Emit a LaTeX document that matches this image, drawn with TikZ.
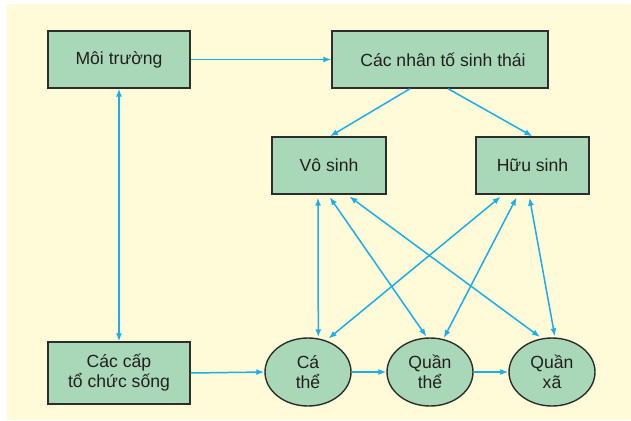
\documentclass[tikz,border=0pt]{standalone}
\usepackage{fontspec}
\setmainfont{Liberation Sans}
\usetikzlibrary{arrows.meta,shapes.geometric}
\definecolor{paper}{RGB}{255,250,215}
\definecolor{boxfill}{RGB}{168,216,184}
\definecolor{edge}{RGB}{45,45,45}
\definecolor{link}{RGB}{25,175,235}
\definecolor{ink}{RGB}{35,31,32}
\tikzset{
  lbl/.style={font=\fontsize{17.6}{20}\selectfont, text=ink, align=center},
  block/.style={lbl, draw=edge, line width=1.4pt, fill=boxfill, inner sep=0pt},
  level/.style={lbl, ellipse, draw=edge, line width=1.4pt, fill=boxfill, inner sep=0pt,
    minimum width=86pt, minimum height=68pt},
  flow/.style={draw=link, line width=1.5pt, -{Latex[length=8pt,width=6pt]}},
  both/.style={draw=link, line width=1.5pt, {Latex[length=8pt,width=6pt]}-{Latex[length=8pt,width=6pt]}}
}
\begin{document}
\begin{tikzpicture}[x=1pt,y=-1pt]
  % canvas and cream panel
  \fill[white] (0,0) rectangle (631,420);
  \fill[paper] (7,4) rectangle (631,420);
  \useasboundingbox (0,0) rectangle (631,420);

  % rectangular blocks
  \node[block, minimum width=142pt, minimum height=57pt] (mt)  at (119,59.5) {Môi trường};
  \node[block, minimum width=216pt, minimum height=57pt] (cnt) at (440,59.5) {\hspace*{6pt}Các nhân tố sinh thái};
  \node[block, minimum width=114pt, minimum height=57pt] (vs)  at (329,165.5) {Vô sinh};
  \node[block, minimum width=113pt, minimum height=57pt] (hs)  at (532.5,165.5) {Hữu sinh};
  \node[block, minimum width=142pt, minimum height=62pt] (cc)  at (119,373) {Các cấp\\tổ chức sống};

  % levels of organisation
  \node[level] (ct) at (308,372) {Cá\\thể};
  \node[level] (qt) at (430,372) {Quần\\thể};
  \node[level] (qx) at (552,372) {Quần\\xã};

  % single-headed links
  \draw[flow] (mt.east) -- (cnt.west);
  \draw[flow] ([xshift=-30pt]cnt.south) -- ([xshift=1pt]vs.north);
  \draw[flow] ([xshift=8pt]cnt.south) -- (hs.north);
  \draw[flow] (cc.east) -- (ct.west);
  \draw[flow] (ct.east) -- (qt.west);
  \draw[flow] (qt.east) -- (qx.west);

  % two-way links
  \draw[both] (mt.south) -- (cc.north);
  \draw[both, shorten <=3pt, shorten >=1pt] ([xshift=-11pt]vs.south) -- (ct.73);
  \draw[both, shorten <=3pt, shorten >=1pt] ([xshift=-1pt]vs.south) -- (qt.95);
  \draw[both, shorten <=3pt, shorten >=2pt] ([xshift=18pt]vs.south) -- (qx.107);
  \draw[both, shorten <=3pt, shorten >=3pt] ([xshift=-29.5pt]hs.south) -- (ct.60);
  \draw[both, shorten <=3pt, shorten >=1pt] ([xshift=-14.5pt]hs.south) -- (qt.68);
  \draw[both, shorten <=3pt, shorten >=1pt] ([xshift=-3.5pt]hs.south) -- (qx.85);
\end{tikzpicture}
\end{document}
